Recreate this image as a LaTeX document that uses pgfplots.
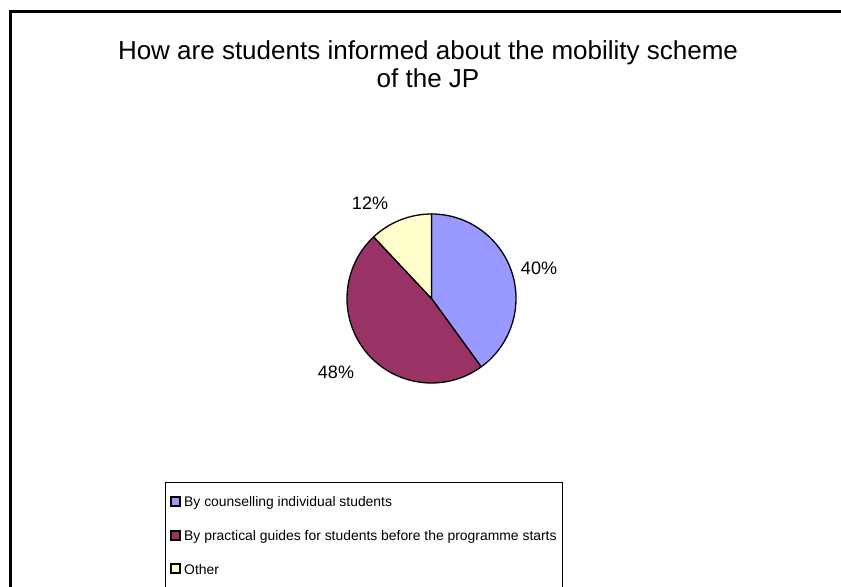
\documentclass[border=0pt]{standalone}
\usepackage{pgfplots}
\pgfplotsset{compat=1.18}
\usepackage{pgfplotstable}
\usepackage{fontspec}
\setmainfont{Liberation Sans}

\pgfplotstableread{
label value
counselling 40
guides 48
other 12
}\piedata

\definecolor{cA}{HTML}{9999FF}
\definecolor{cB}{HTML}{993366}
\definecolor{cC}{HTML}{FFFFCC}

\begin{document}
\pgfplotstablegetelem{0}{value}\of\piedata \edef\vA{\pgfplotsretval}%
\pgfplotstablegetelem{1}{value}\of\piedata \edef\vB{\pgfplotsretval}%
\pgfplotstablegetelem{2}{value}\of\piedata \edef\vC{\pgfplotsretval}%
\pgfmathsetmacro\aA{90}%
\pgfmathsetmacro\aB{90-3.6*\vA}%
\pgfmathsetmacro\aC{\aB-3.6*\vB}%
\pgfmathsetmacro\aD{\aC-3.6*\vC}%
\begin{tikzpicture}
\begin{axis}[width=841bp,height=587bp,scale only axis,
  xmin=0,xmax=841,ymin=0,ymax=587,hide axis,clip=true]
% frame
\draw[line width=3bp] (axis cs:10,-5) -- (axis cs:10,575.5) -- (axis cs:850,575.5);
% title
\node[anchor=base,font=\fontsize{26bp}{30bp}\selectfont] at (axis cs:428,527)
  {How are students informed about the mobility scheme};
\node[anchor=base,font=\fontsize{26bp}{30bp}\selectfont] at (axis cs:428,499)
  {of the JP};
% pie
\filldraw[fill=cA,draw=black,line width=1.3bp,line join=round] (axis cs:431.5,288.5) -- ++(\aA:84.5bp) arc[start angle=\aA,end angle=\aB,radius=84.5bp] -- cycle;
\filldraw[fill=cB,draw=black,line width=1.3bp,line join=round] (axis cs:431.5,288.5) -- ++(\aB:84.5bp) arc[start angle=\aB,end angle=\aC,radius=84.5bp] -- cycle;
\filldraw[fill=cC,draw=black,line width=1.3bp,line join=round] (axis cs:431.5,288.5) -- ++(\aC:84.5bp) arc[start angle=\aC,end angle=\aD,radius=84.5bp] -- cycle;
% labels
\node[font=\fontsize{18bp}{20bp}\selectfont] at (axis cs:539,319) {\vA\%};
\node[font=\fontsize{18bp}{20bp}\selectfont] at (axis cs:336,215) {\vB\%};
\node[font=\fontsize{18bp}{20bp}\selectfont] at (axis cs:370,384) {\vC\%};
% legend
\draw[line width=1bp] (axis cs:165,-5) -- (axis cs:165,104) -- (axis cs:562,104) -- (axis cs:562,-5);
\filldraw[fill=cA,draw=black,line width=1.2bp] (axis cs:171,81) rectangle (axis cs:180,90);
\filldraw[fill=cB,draw=black,line width=1.2bp] (axis cs:171,47) rectangle (axis cs:180,56);
\filldraw[fill=cC,draw=black,line width=1.2bp] (axis cs:171,14) rectangle (axis cs:180,23);
\node[anchor=base west,inner sep=0pt,font=\fontsize{13.9bp}{16bp}\selectfont] at (axis cs:184,80) {By counselling individual students};
\node[anchor=base west,inner sep=0pt,font=\fontsize{13.9bp}{16bp}\selectfont] at (axis cs:184,46) {By practical guides for students before the programme starts};
\node[anchor=base west,inner sep=0pt,font=\fontsize{13.9bp}{16bp}\selectfont] at (axis cs:184,13) {Other};
\end{axis}
\pgfresetboundingbox
\path (0,0) rectangle (841bp,587bp);
\end{tikzpicture}
\end{document}
